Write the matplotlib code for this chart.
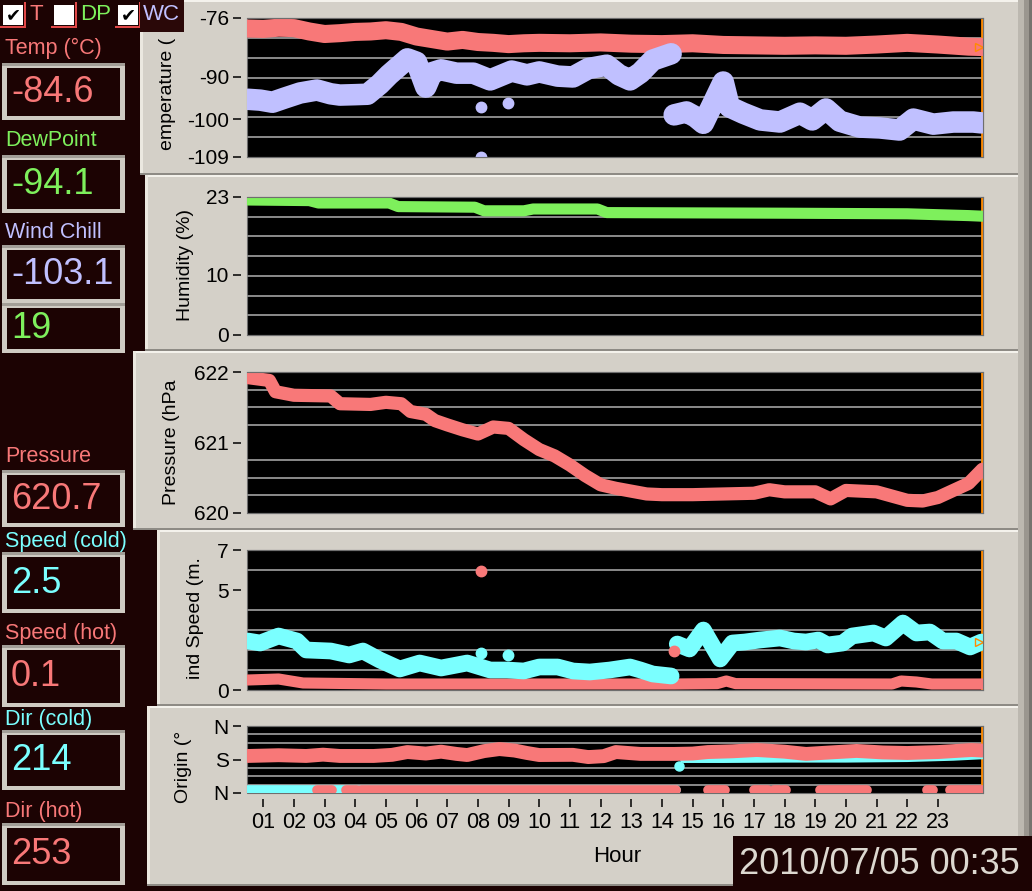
import numpy as np
import matplotlib.pyplot as plt
from matplotlib.patches import Rectangle

# ---- readings: hour of day -> value ----
temp_hours = [0.5, 1.0, 1.5, 2.0, 2.5, 3.0, 3.5, 4.0, 4.5, 5.0, 5.5, 6.0, 6.5, 7.0, 7.5,
              8.0, 8.5, 9.0, 9.5, 10.0, 11.0, 12.0, 13.0, 14.0, 15.0, 16.0, 17.0, 18.0,
              19.0, 20.0, 21.0, 22.0, 23.0, 24.0, 24.45]
temp_vals = [-78.5, -78.6, -78.3, -78.4, -79.2, -79.8, -79.6, -79.3, -79.2, -78.9, -79.3,
             -80.4, -81.0, -81.6, -81.2, -81.7, -81.9, -82.2, -82.0, -81.9, -82.0, -81.8,
             -82.1, -82.2, -82.0, -82.4, -82.5, -82.6, -82.5, -82.6, -82.3, -81.9, -82.3,
             -82.8, -82.9]

wc_hours_a = [0.5, 0.9, 1.3, 1.7, 2.2, 2.75, 3.2, 3.5, 4.0, 4.4, 4.8, 5.1, 5.4, 5.7, 6.0,
              6.3, 6.5, 6.8, 7.3, 7.85, 8.4, 9.1, 9.6, 10.0, 10.6, 11.1, 11.6, 12.2, 12.6,
              12.96, 13.3, 13.7, 14.3]
wc_vals_a = [-95.3, -95.5, -96.0, -95.0, -93.8, -93.1, -94.0, -94.3, -94.2, -94.1, -91.7,
             -89.5, -87.6, -85.7, -86.5, -92.4, -89.0, -88.3, -89.1, -89.1, -90.7, -88.6,
             -89.5, -88.8, -89.8, -90.0, -88.0, -87.2, -89.5, -90.7, -89.0, -86.0, -84.5]
wc_hours_b = [14.4, 14.8, 15.1, 15.35, 15.65, 16.0, 16.2, 16.65, 17.2, 17.85, 18.5, 18.9,
              19.35, 19.8, 20.45, 21.1, 21.75, 22.2, 22.85, 23.5, 24.15, 24.42]
wc_vals_b = [-99.0, -98.3, -99.5, -101.0, -96.5, -91.2, -97.1, -98.6, -100.2, -100.7, -98.6,
             -100.2, -97.6, -100.5, -101.9, -102.1, -102.6, -100.0, -101.2, -100.7, -100.7,
             -100.9]
wc_out_hours = [8.1, 8.97, 8.1]
wc_out_vals = [-97.1, -96.2, -109.0]

hum_hours = [0.5, 2.5, 2.8, 5.1, 5.4, 7.9, 8.2, 9.5, 9.8, 11.9, 12.2, 18.0, 22.0, 24.0, 24.45]
hum_vals = [22.5, 22.4, 22.0, 22.0, 21.4, 21.3, 20.7, 20.7, 21.0, 21.0, 20.4, 20.3, 20.2,
            19.9, 19.8]

pres_hours = [0.5, 1.2, 1.4, 2.0, 3.2, 3.5, 4.5, 5.0, 5.5, 5.8, 6.3, 6.6, 7.0, 7.5, 8.0,
              8.5, 9.0, 9.5, 10.0, 10.5, 11.0, 11.5, 12.0, 12.5, 13.0, 13.5, 14.0, 15.0,
              16.0, 17.0, 17.5, 18.0, 19.0, 19.5, 20.0, 21.0, 21.5, 22.0, 22.5, 23.0,
              23.5, 24.0, 24.45]
pres_vals = [621.92, 621.88, 621.72, 621.67, 621.66, 621.55, 621.54, 621.57, 621.55, 621.44,
             621.40, 621.31, 621.25, 621.18, 621.12, 621.22, 621.20, 621.04, 620.90, 620.81,
             620.68, 620.53, 620.40, 620.35, 620.31, 620.27, 620.26, 620.26, 620.27, 620.28,
             620.33, 620.30, 620.30, 620.20, 620.32, 620.30, 620.24, 620.18, 620.17, 620.22,
             620.32, 620.42, 620.62]

spd_cold_hours_a = [0.5, 0.9, 1.5, 2.1, 2.4, 3.2, 3.8, 4.25, 4.8, 5.45, 6.1, 6.8, 7.65, 8.4,
                    8.95, 9.5, 10.0, 10.6, 11.1, 11.65, 12.3, 12.96, 13.3, 13.7, 14.3]
spd_cold_vals_a = [2.45, 2.35, 2.7, 2.45, 2.0, 1.95, 1.75, 1.95, 1.5, 1.05, 1.35, 1.1, 1.35,
                   1.0, 1.0, 0.95, 1.15, 1.15, 0.95, 0.9, 1.0, 1.15, 1.0, 0.8, 0.7]
spd_cold_hours_b = [14.5, 14.9, 15.35, 15.9, 16.3, 16.7, 17.2, 17.85, 18.3, 18.7, 19.1, 19.4,
                    19.9, 20.2, 20.9, 21.3, 21.86, 22.3, 22.74, 23.16, 23.6, 24.05, 24.42]
spd_cold_vals_b = [2.3, 2.05, 3.0, 1.55, 2.35, 2.4, 2.5, 2.6, 2.45, 2.4, 2.5, 2.25, 2.35, 2.7,
                   2.85, 2.6, 3.35, 2.85, 2.9, 2.45, 2.45, 2.15, 2.4]
spd_hot_hours = [0.5, 1.5, 2.3, 5.0, 10.0, 14.4, 15.8, 16.1, 16.4, 21.5, 21.8, 22.3, 22.8, 24.45]
spd_hot_vals = [0.5, 0.55, 0.35, 0.3, 0.3, 0.3, 0.32, 0.45, 0.32, 0.3, 0.45, 0.4, 0.3, 0.3]
spd_cold_out_hours = [8.1, 8.97]
spd_cold_out_vals = [1.85, 1.75]
spd_hot_out_hours = [8.1, 14.4]
spd_hot_out_vals = [5.95, 1.95]

dir_hot_hours = [0.5, 1.5, 2.4, 2.95, 3.5, 4.6, 5.2, 5.7, 6.3, 6.8, 7.3, 7.65, 8.2, 8.7, 9.2,
                 9.6, 10.0, 11.1, 11.6, 12.1, 12.5, 13.3, 14.4, 15.0, 15.5, 16.3, 17.1, 18.0,
                 18.7, 19.5, 20.35, 21.2, 22.0, 23.0, 24.1, 24.45]
dir_hot_vals = [199, 203, 199, 206, 199, 199, 205, 220, 212, 222, 210, 204, 225, 236, 228,
                215, 204, 205, 193, 198, 220, 210, 210, 212, 220, 224, 231, 222, 210, 218,
                226, 218, 215, 220, 231, 228]
dir_hot_low_start = [2.75, 3.7, 4.2, 15.5, 17.0, 17.65, 19.15, 22.65, 23.4]
dir_hot_low_end = [3.25, 4.05, 14.45, 16.05, 17.45, 18.05, 20.7, 22.85, 24.47]
dir_hot_low_val = 14
dir_cold_hours_a = [0.5, 14.45]
dir_cold_vals_a = [14, 14]
dir_cold_hours_b = [14.7, 16.0, 18.0, 20.0, 22.0, 23.5, 24.45]
dir_cold_vals_b = [180, 180, 182, 182, 185, 192, 200]
dir_cold_out_hours = [14.55]
dir_cold_out_vals = [147]

hour_ticks = list(range(1, 24))
hour_labels = ['%02d' % h for h in hour_ticks]

# current readings shown in the left column
readouts = [
    ('Temp (°C)', '-84.6', 'red'),
    ('DewPoint', '-94.1', 'green'),
    ('Wind Chill', '-103.1', 'lav'),
    (None, '19', 'green'),
    ('Pressure', '620.7', 'red'),
    ('Speed (cold)', '2.5', 'cyan'),
    ('Speed (hot)', '0.1', 'red'),
    ('Dir (cold)', '214', 'cyan'),
    ('Dir (hot)', '253', 'red'),
]
timestamp = '2010/07/05 00:35'

# ---- style ----
W, H = 1032, 891
DARK = '#1c0303'
PANEL = '#d4d0c8'
GRID = '#8a8a8a'
ORANGE = '#ff8a00'
COL = {'red': '#f87878', 'green': '#7ef05c', 'lav': '#c0c0ff', 'cyan': '#7affff'}
X0, X1 = 0.47, 24.47

plt.rcParams['font.family'] = ['Liberation Sans', 'DejaVu Sans']

fig = plt.figure(figsize=(W / 100, H / 100), dpi=100)
fig.patch.set_facecolor(DARK)

bg = fig.add_axes([0, 0, 1, 1])
bg.set_xlim(0, W)
bg.set_ylim(H, 0)
bg.axis('off')


def rect(x0, y0, x1, y1, color):
    bg.add_patch(Rectangle((x0, y0), x1 - x0, y1 - y0, facecolor=color, edgecolor='none'))


def panel(x0, y0, y1):
    rect(x0, y0, W, y1, PANEL)
    rect(x0, y0, W, y0 + 2, '#f4f2ec')
    rect(x0, y0, x0 + 3, y1, '#ebe8e0')
    rect(x0, y1 - 2, W, y1, '#8e8b85')
    rect(W - 14, y0, W - 8, y1, '#bcb8b0')
    rect(W - 8, y0, W - 3, y1, '#9a968f')
    rect(W - 3, y0, W, y1, '#76736e')


panel(140, 0, 175)
panel(145, 175, 351)
panel(133, 351, 530)
panel(157, 530, 706)
panel(147, 706, 886)

# check boxes
for bx, checked in [(3, True), (54, False), (118, True)]:
    rect(bx, 5, bx + 20, 25, 'white')
    rect(bx - 3, 26, bx + 23, 28, '#e04848')
    rect(bx + 21, 2, bx + 23, 28, '#e04848')
    if checked:
        bg.text(bx + 10, 15.5, '✔', color='black', fontsize=13, ha='center', va='center',
                family=['DejaVu Sans'])
bg.text(30, 15, 'T', color=COL['red'], fontsize=16, va='center')
bg.text(80, 15, 'DP', color=COL['green'], fontsize=16, va='center')
rect(140, 0, 184, 32, '#2a0808')
bg.text(143, 15, 'WC', color=COL['lav'], fontsize=16, va='center')

# readout boxes
label_y = [48, 140, 232, None, 457, 541, 634, 719, 812]
box_y = [(63, 120), (155, 213), (245, 303), (303, 353), (470, 527),
         (552, 613), (645, 707), (730, 790), (823, 885)]
for (lab, val, c), ly, (y0, y1) in zip(readouts, label_y, box_y):
    if lab is not None:
        bg.text(5, ly, lab, color=COL[c], fontsize=15.5, va='center')
    rect(2, y0, 125, y1, '#cfcbc3')
    rect(2, y0, 125, y0 + 3, '#a29e97')
    rect(7, y0 + 5, 120, y1 - 4, DARK)
    bg.text(11, (y0 + y1) / 2 + 1, val, color=COL[c], fontsize=26, va='center')

# time stamp
rect(733, 836, W, H, DARK)
bg.text(739, 865, timestamp, color='#dcd8d0', fontsize=26, va='center')
bg.text(617, 857, 'Hour', color='black', fontsize=16, ha='center', va='center')

# axis titles (clipped in the original panel)
for x, y, t in [(168, 94, 'emperature ('), (185, 265, 'Humidity (%)'),
                (171, 442, 'Pressure (hPa'), (196, 618, 'ind Speed (m.'),
                (184, 767, 'Origin (°')]:
    bg.text(x, y, t, rotation=90, fontsize=14, ha='center', va='center', color='black')


def make_ax(y0, y1, ylim, ticks, labels, grid):
    ax = fig.add_axes([247 / W, 1 - y1 / H, (983 - 247) / W, (y1 - y0) / H])
    ax.set_facecolor('black')
    ax.set_xlim(X0, X1)
    ax.set_ylim(*ylim)
    ax.set_yticks(ticks)
    ax.set_yticklabels(labels)
    ax.set_yticks(grid, minor=True)
    ax.yaxis.grid(True, which='minor', color=GRID, lw=1.4)
    ax.tick_params(axis='y', which='minor', length=0)
    ax.tick_params(axis='y', which='major', direction='out', length=6, width=1.1,
                   pad=3, labelsize=15, colors='black')
    ax.set_xticks([])
    for s in ax.spines.values():
        s.set_color('#6e6e6e')
        s.set_linewidth(0.8)
    ax.spines['left'].set_position(('outward', 4))
    ax.spines['left'].set_visible(False)
    ax.add_patch(Rectangle((0, 0), 1, 1, transform=ax.transAxes, fill=False,
                           ec='#6e6e6e', lw=0.8, clip_on=False))
    ax.axvline(X1 - 0.02, color=ORANGE, lw=2)
    return ax


def band(ax, h, v, color, lw):
    ax.plot(h, v, color=color, lw=lw, solid_capstyle='round', solid_joinstyle='round')


# temperature / wind chill
ax_t = make_ax(18, 157, (-109, -76), [-76, -90, -100, -109], ['-76', '-90', '-100', '-109'],
               np.linspace(-109, -76, 8)[1:-1])
band(ax_t, temp_hours, temp_vals, COL['red'], 13)
band(ax_t, wc_hours_a, wc_vals_a, COL['lav'], 15.5)
band(ax_t, wc_hours_b, wc_vals_b, COL['lav'], 15.5)
ax_t.plot(wc_out_hours, wc_out_vals, 'o', color=COL['lav'], ms=7.5)
ax_t.plot(X1 - 0.12, temp_vals[-1], marker='>', ms=6, color=ORANGE, mfc='none')

# humidity
ax_h = make_ax(197, 335, (0, 23), [23, 10, 0], ['23', '10', '0'],
               np.linspace(0, 23, 8)[1:-1])
band(ax_h, hum_hours, hum_vals, COL['green'], 8)

# pressure
ax_p = make_ax(372, 513, (620, 622), [622, 621, 620], ['622', '621', '620'],
               np.arange(620.25, 622, 0.25))
band(ax_p, pres_hours, pres_vals, COL['red'], 9.5)

# wind speed
ax_s = make_ax(550, 690, (0, 7), [7, 5, 0], ['7', '5', '0'], np.arange(1, 7))
band(ax_s, spd_hot_hours, spd_hot_vals, COL['red'], 8)
band(ax_s, spd_cold_hours_a, spd_cold_vals_a, COL['cyan'], 12)
band(ax_s, spd_cold_hours_b, spd_cold_vals_b, COL['cyan'], 12)
ax_s.plot(spd_cold_out_hours, spd_cold_out_vals, 'o', color=COL['cyan'], ms=7.5)
ax_s.plot(spd_hot_out_hours, spd_hot_out_vals, 'o', color=COL['red'], ms=7.5)
ax_s.plot(X1 - 0.12, spd_cold_vals_b[-1], marker='>', ms=6, color=ORANGE, mfc='none')

# wind direction
ax_d = make_ax(726, 793, (0, 360), [360, 180, 0], ['N', 'S', 'N'], np.arange(45, 360, 45))
band(ax_d, dir_cold_hours_a, dir_cold_vals_a, COL['cyan'], 7)
band(ax_d, dir_cold_hours_b, dir_cold_vals_b, COL['cyan'], 5)
ax_d.plot(dir_cold_out_hours, dir_cold_out_vals, 'o', color=COL['cyan'], ms=6.5)
band(ax_d, dir_hot_hours, dir_hot_vals, COL['red'], 10)
for s, e in zip(dir_hot_low_start, dir_hot_low_end):
    band(ax_d, [s, e], [dir_hot_low_val, dir_hot_low_val], COL['red'], 7)
ax_d.set_xticks(hour_ticks)
ax_d.set_xticklabels(hour_labels)
ax_d.spines['bottom'].set_position(('outward', 4))
ax_d.spines['bottom'].set_visible(False)
ax_d.tick_params(axis='x', direction='out', length=6, width=1.1, pad=4, labelsize=15.5,
                 colors='black')

fig.savefig('out.png', dpi=100, facecolor=fig.get_facecolor())
